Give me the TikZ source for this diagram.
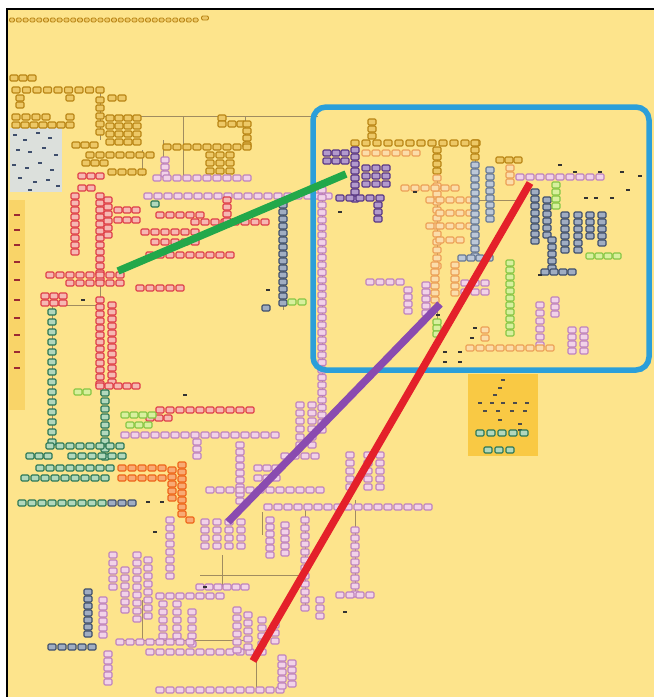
\documentclass[tikz,border=0pt]{standalone}
\usetikzlibrary{calc}
\definecolor{bgy}{HTML}{FDE48C}
\definecolor{gdr}{HTML}{B88414}\definecolor{gfl}{HTML}{EDC866}
\definecolor{rdr}{HTML}{DE3C48}\definecolor{rfl}{HTML}{F6B8B2}
\definecolor{pdr}{HTML}{BF82BE}\definecolor{pfl}{HTML}{F2D2E8}
\definecolor{ndr}{HTML}{3E4E6C}\definecolor{nfl}{HTML}{A0ADC2}
\definecolor{dgd}{HTML}{2A7656}\definecolor{dgf}{HTML}{B2D8BC}
\definecolor{lgd}{HTML}{86C644}\definecolor{lgf}{HTML}{D8F09E}
\definecolor{odr}{HTML}{EE6418}\definecolor{ofl}{HTML}{F8AA74}
\definecolor{ped}{HTML}{EC9F56}\definecolor{pef}{HTML}{FBDDAA}
\definecolor{pud}{HTML}{583684}\definecolor{puf}{HTML}{B29ACC}
\definecolor{std}{HTML}{667894}\definecolor{stf}{HTML}{BCC8D8}
\definecolor{bluex}{HTML}{2B9FD9}
\definecolor{lbz}{HTML}{DCE0DC}
\definecolor{lnc}{HTML}{A08C60}
\definecolor{stripa}{HTML}{F9D468}
\definecolor{stripb}{HTML}{F9C944}
\tikzset{
 box/.style={draw, rounded corners=1.2pt, minimum width=8pt, minimum height=6pt, inner sep=0pt, line width=1.1pt},
 kg/.style={box, draw=gdr, fill=gfl},
 kgt/.style={box, draw=gdr, fill=gfl, minimum width=5pt, minimum height=4pt, line width=0.8pt},
 kr/.style={box, draw=rdr, fill=rfl},
 kp/.style={box, draw=pdr, fill=pfl},
 kn/.style={box, draw=ndr, fill=nfl},
 kdg/.style={box, draw=dgd, fill=dgf},
 klg/.style={box, draw=lgd, fill=lgf},
 ko/.style={box, draw=odr, fill=ofl},
 kpe/.style={box, draw=ped, fill=pef},
 kpu/.style={box, draw=pud, fill=puf},
 kst/.style={box, draw=std, fill=stf},
 mk/.style={fill=black!80, minimum width=4pt, minimum height=2pt, inner sep=0pt},
 ln/.style={draw=lnc, line width=0.6pt},
 big/.style={line width=7.5pt, line cap=butt},
}
\newcommand{\vcl}[5]{\foreach \k in {1,...,#4}{\node[#1] at ({#2},{#3+(\k-1)*#5}) {};}}
\newcommand{\hrw}[5]{\foreach \k in {1,...,#4}{\node[#1] at ({#2+(\k-1)*#5},{#3}) {};}}
\begin{document}
\begin{tikzpicture}[x=1pt,y=-1pt]
\useasboundingbox (0,0) rectangle (654,697);
\fill[white] (0,0) rectangle (654,697);
\fill[bgy] (8,10) rectangle (654,697);
% side strips
\fill[stripa] (9,200) rectangle (25,410);
\fill[stripb] (468,374) rectangle (538,456);
\fill[lbz] (10,128) rectangle (62,192);
\foreach \a/\b in {15/135,25/140,38/133,50/138,18/150,30/152,44/148,56/155,14/165,27/168,40/163,52/170,20/178,35/182,48/180,58/186,30/190}{\node[mk, fill=ndr] at (\a,\b) {};}
\foreach \b in {215,230,245,262,280,300,318,335,352,368}{\node[fill=rdr!70!black, minimum width=6pt, minimum height=2pt, inner sep=0pt] at (17,\b) {};}
% ---------- thin connector lines ----------
\draw[ln] (100,116) -- (318,116);
\draw[ln] (183,116) -- (183,176);
\draw[ln] (100,88) -- (100,140);
\draw[ln] (163,140) -- (163,176);
\draw[ln] (142,150) -- (142,176);
\draw[ln] (245,116) -- (245,147);
\draw[ln] (100,196) -- (100,395);
\draw[ln] (52,305) -- (52,445);
\draw[ln] (52,305) -- (100,305);
\draw[ln] (283,200) -- (283,310);
\draw[ln] (262,512) -- (262,535);
\draw[ln] (222,555) -- (222,587);
\draw[ln] (142,600) -- (142,640);
\draw[ln] (256,662) -- (256,690);
\draw[ln] (120,640) -- (250,640);
\draw[ln] (305,510) -- (305,605);
\draw[ln] (355,500) -- (355,595);
\draw[ln] (200,575) -- (300,575);
\draw[ln] (437,150) -- (437,330);
\draw[ln] (475,143) -- (475,260);
\draw[ln] (475,200) -- (520,200);
\draw[ln] (510,260) -- (510,335);
\draw[ln] (322,190) -- (322,432);
% ---------- top strip ----------
\hrw{kgt}{12}{20}{28}{6.8}
\node[kgt, minimum width=7pt] at (205,18) {};
% ---------- gold tree ----------
\hrw{kg}{14}{78}{3}{9}
\hrw{kg}{16}{90}{9}{10.5}
\node[kg] at (20,98) {};\node[kg] at (20,105) {};\node[kg] at (70,98) {};
\node[kg] at (112,98) {};\node[kg] at (122,98) {};
\vcl{kg}{100}{100}{5}{8}
\hrw{kg}{16}{117}{4}{10}\node[kg] at (70,117) {};
\hrw{kg}{16}{125}{7}{9}
\foreach \r in {0,...,3}{\hrw{kg}{110}{118+\r*8}{4}{9}}
\vcl{kg}{222}{118}{2}{6}
\hrw{kg}{232}{124}{2}{9}
\vcl{kg}{247}{124}{4}{7}
\hrw{kg}{167}{147}{9}{10}
\foreach \r in {0,...,2}{\hrw{kg}{210}{155+\r*8}{3}{10}}
\hrw{kg}{76}{145}{3}{9}
\hrw{kg}{90}{155}{7}{10}
\hrw{kg}{86}{163}{3}{9}
\hrw{kg}{112}{172}{4}{10}
% ---------- pink upper ----------
\vcl{kp}{165}{160}{3}{7}
\hrw{kp}{157}{178}{10}{10}
\hrw{kp}{148}{196}{19}{10}
\node[kdg] at (155,204) {};
% ---------- red ----------
\hrw{kr}{82}{176}{3}{9}
\hrw{kr}{82}{188}{2}{9}
\vcl{kr}{75}{196}{9}{7}
\vcl{kr}{100}{196}{13}{7}
\vcl{kr}{108}{200}{6}{7}
\hrw{kr}{118}{210}{3}{9}
\hrw{kr}{118}{220}{3}{9}
\hrw{kr}{160}{215}{5}{10}
\hrw{kr}{195}{222}{8}{10}
\vcl{kr}{227}{200}{4}{7}
\hrw{kr}{145}{232}{6}{10}
\hrw{kr}{155}{242}{5}{10}
\hrw{kr}{150}{255}{9}{10}
\hrw{kr}{50}{275}{8}{10}
\hrw{kr}{70}{283}{6}{10}
\hrw{kr}{140}{288}{5}{10}
\hrw{kr}{45}{296}{3}{9}
\hrw{kr}{45}{303}{3}{9}
\vcl{kr}{100}{300}{13}{7}
\vcl{kr}{112}{305}{12}{7}
\hrw{kr}{100}{386}{5}{9}
\hrw{kr}{160}{410}{10}{10}
\hrw{kr}{150}{418}{3}{9}
\node[mk] at (83,300) {};
% ---------- navy ----------
\vcl{kn}{283}{205}{15}{7}
\node[kn] at (266,308) {};
\node[klg] at (292,302) {};\node[klg] at (302,302) {};
\node[mk] at (268,290) {};
% ---------- greens ----------
\vcl{kdg}{52}{312}{14}{10}
\vcl{kdg}{105}{393}{9}{8}
\hrw{klg}{78}{392}{2}{9}
\hrw{klg}{125}{415}{4}{9}
\hrw{klg}{130}{425}{3}{9}
\hrw{kdg}{50}{446}{8}{10}
\hrw{kdg}{30}{456}{3}{9}
\hrw{kdg}{72}{456}{6}{10}
\hrw{kdg}{40}{468}{8}{10}
\hrw{kdg}{25}{478}{9}{10}
\hrw{kdg}{22}{503}{9}{10}
\hrw{kn}{112}{503}{3}{10}
\node[mk] at (148,502) {};\node[mk] at (162,502) {};
\node[mk] at (185,395) {};
% ---------- orange ----------
\hrw{ko}{122}{468}{5}{10}
\hrw{ko}{122}{478}{5}{10}
\vcl{ko}{182}{465}{8}{7}
\vcl{ko}{172}{470}{5}{7}
\node[ko] at (190,520) {};
% ---------- pink lower ----------
\vcl{kp}{322}{190}{33}{7.5}
\hrw{kp}{125}{435}{16}{10}
\vcl{kp}{197}{442}{3}{7}
\vcl{kp}{300}{405}{6}{8}
\vcl{kp}{312}{405}{6}{8}
\hrw{kp}{285}{456}{4}{10}
\vcl{kp}{240}{445}{9}{7}
\hrw{kp}{258}{468}{3}{9}
\hrw{kp}{258}{478}{3}{9}
\vcl{kp}{350}{455}{5}{8}
\vcl{kp}{368}{455}{5}{8}
\vcl{kp}{380}{455}{5}{8}
\hrw{kp}{210}{490}{12}{10}
\hrw{kp}{268}{507}{17}{10}
\foreach \r in {0,...,3}{\hrw{kp}{205}{522+\r*8}{4}{12}}
\vcl{kp}{305}{520}{12}{8}
\vcl{kp}{355}{530}{9}{8}
\hrw{kp}{340}{595}{4}{10}
\vcl{kp}{170}{520}{8}{8}
\vcl{kp}{270}{520}{6}{7}
\vcl{kp}{285}{525}{5}{7}
\hrw{kp}{200}{587}{6}{9}
\hrw{kp}{160}{596}{7}{10}
\vcl{kp}{137}{555}{9}{8}
\vcl{kp}{148}{560}{8}{8}
\vcl{kp}{113}{555}{5}{8}
\vcl{kp}{125}{570}{6}{8}
\vcl{kp}{103}{600}{6}{7}
\vcl{kn}{88}{592}{7}{7}
\hrw{kn}{52}{647}{5}{10}
\vcl{kp}{108}{654}{5}{7}
\vcl{kp}{163}{604}{5}{8}
\vcl{kp}{177}{604}{5}{8}
\vcl{kp}{192}{612}{5}{8}
\hrw{kp}{120}{642}{8}{10}
\hrw{kp}{150}{652}{11}{10}
\hrw{kp}{160}{690}{13}{10}
\vcl{kp}{282}{658}{5}{7}
\vcl{kp}{292}{663}{4}{7}
\vcl{kp}{262}{620}{5}{8}
\vcl{kp}{275}{625}{3}{8}
\vcl{kp}{237}{610}{6}{8}
\vcl{kp}{248}{615}{5}{8}
\vcl{kp}{320}{600}{3}{8}
\node[mk] at (345,612) {};\node[mk] at (205,587) {};\node[mk] at (350,497) {};\node[mk] at (155,532) {};
% ---------- inside blue box ----------
\vcl{kg}{372}{122}{3}{7}
\hrw{kg}{355}{143}{12}{11}
\vcl{kpu}{355}{150}{8}{7}
\hrw{kpu}{327}{153}{3}{9}
\hrw{kpu}{327}{161}{3}{9}
\hrw{kpu}{366}{168}{3}{10}
\hrw{kpu}{366}{176}{3}{10}
\hrw{kpu}{366}{184}{3}{10}
\hrw{kpu}{340}{198}{5}{10}
\vcl{kpu}{378}{205}{3}{7}
\hrw{kpe}{366}{153}{6}{10}
\vcl{kg}{437}{150}{4}{7}
\vcl{kpe}{437}{178}{12}{8}
\hrw{kpe}{405}{188}{6}{10}
\hrw{kpe}{430}{200}{5}{10}
\hrw{kpe}{440}{213}{4}{10}
\hrw{kpe}{430}{226}{5}{10}
\hrw{kpe}{440}{240}{3}{10}
\vcl{kg}{475}{143}{3}{7}
\vcl{kst}{475}{165}{14}{7}
\vcl{kst}{490}{170}{8}{7}
\hrw{kst}{462}{258}{4}{9}
\hrw{kg}{500}{160}{3}{9}
\vcl{kpe}{510}{168}{3}{7}
\hrw{kp}{520}{177}{9}{10}
\vcl{kn}{535}{192}{8}{7}
\vcl{kn}{547}{200}{6}{7}
\vcl{klg}{556}{185}{4}{7}
\vcl{kn}{565}{215}{6}{7}
\vcl{kn}{578}{215}{6}{7}
\vcl{kn}{590}{215}{4}{7}
\vcl{kn}{602}{215}{5}{7}
\vcl{kn}{552}{240}{5}{7}
\hrw{kn}{545}{272}{4}{9}
\hrw{klg}{590}{256}{4}{9}
\foreach \a/\b in {560/165,575/172,600/172,622/172,640/176,628/190,596/198,612/198,586/198,540/275,415/192,340/212}{\node[mk] at (\a,\b) {};}
\vcl{kpe}{435}{265}{6}{7}
\vcl{kpe}{455}{265}{5}{7}
\vcl{klg}{510}{263}{11}{7}
\hrw{kp}{465}{283}{3}{10}
\hrw{kp}{465}{292}{3}{10}
\vcl{kp}{540}{305}{6}{8}
\vcl{kp}{572}{330}{4}{7}
\vcl{kp}{584}{330}{4}{7}
\vcl{kp}{555}{300}{3}{7}
\vcl{kp}{408}{290}{4}{7}
\vcl{kp}{426}{285}{5}{7}
\hrw{kp}{370}{282}{4}{10}
\vcl{klg}{437}{322}{3}{6}
\hrw{kpe}{470}{348}{9}{10}
\vcl{kpe}{485}{330}{2}{8}
\foreach \a/\b in {445/352,460/352,445/362,460/362,475/328,472/338,438/315}{\node[mk] at (\a,\b) {};}
% ---------- bottom-right strip ----------
\foreach \a/\b in {503/380,500/388,495/395,480/403,492/403,503/403,515/403,527/403,485/411,498/411,512/411,525/411,500/420,520/424,520/430}{\node[mk, fill=black!70] at (\a,\b) {};}
\hrw{kdg}{480}{433}{5}{11}
\hrw{kdg}{488}{450}{3}{11}
% ---------- blue frame & thick lines ----------
\draw[bluex, line width=5.5pt, rounded corners=13pt] (313,107) rectangle (649,370);
\draw[big, color={rgb,255:red,34;green,168;blue,74}] (118,271) -- (346,174);
\draw[big, color={rgb,255:red,138;green,75;blue,176}] (228,522) -- (440,304);
\draw[big, color={rgb,255:red,228;green,32;blue,42}] (253,661) -- (530,183);
% ---------- black border ----------
\draw[black, line width=2.6pt] (7,697) -- (7,9) -- (654,9);
\end{tikzpicture}
\end{document}
